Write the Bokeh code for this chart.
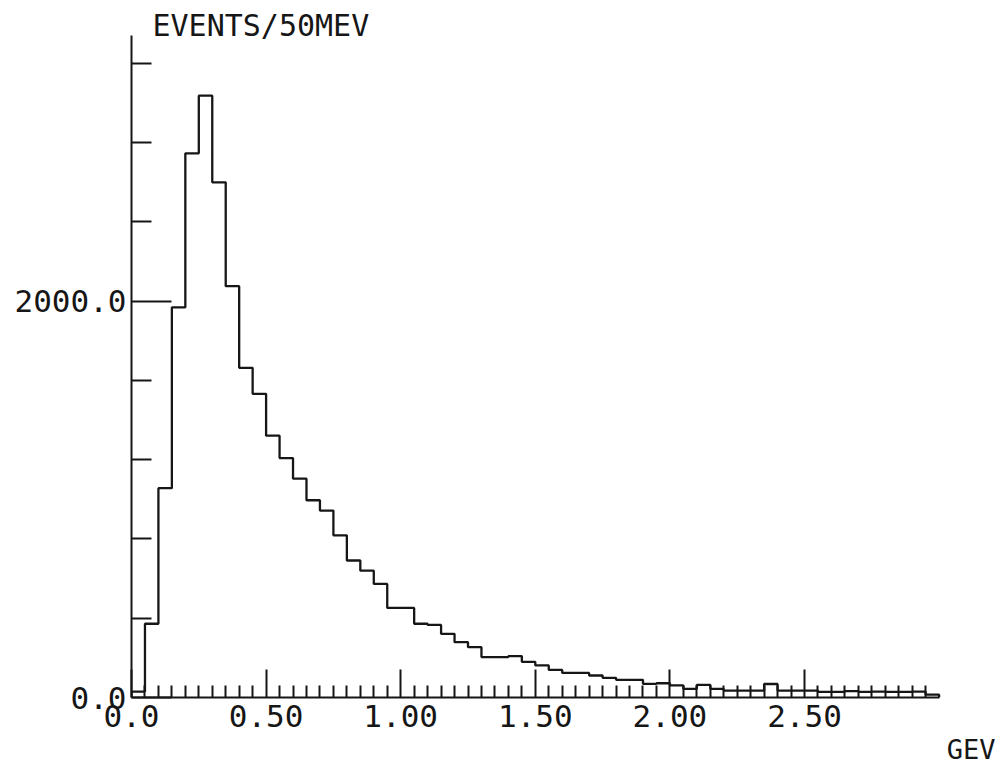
import numpy as np
from bokeh.plotting import figure
from bokeh.models import FixedTicker, Range1d, Label, Title
from bokeh.embed import file_html
from bokeh.resources import INLINE

# Histogram of events per 50 MeV bin, 0.00 - 3.00 GeV
bin_width_gev = 0.05
counts = [
    30, 372, 1056, 1968, 2745, 3036, 2599, 2075, 1663, 1532,
    1321, 1208, 1104, 995, 943, 818, 691, 640, 573, 452,
    452, 372, 366, 321, 279, 254, 204, 204, 209, 180,
    162, 139, 124, 124, 111, 99, 89, 89, 69, 72,
    61, 44, 64, 44, 35, 35, 35, 68, 35, 35,
    35, 28, 28, 32, 28, 30, 28, 28, 30, 14,
]

x_major_ticks = [0.0, 0.5, 1.0, 1.5, 2.0, 2.5]
x_tick_labels = ["0.0", "0.50", "1.00", "1.50", "2.00", "2.50"]
y_major_ticks = [0, 2000]
y_tick_labels = ["0.0", "2000.0"]
y_minor_ticks = [400, 800, 1200, 1600, 2400, 2800, 3200]

x_axis_end = 3.0
y_axis_end = 3340

INK = "#161616"
FONT = "DejaVu Sans Mono"

# step outline of the histogram
edges = np.arange(len(counts) + 1) * bin_width_gev
xs = np.repeat(edges, 2)
ys = np.concatenate([[0], np.repeat(counts, 2), [0]])

p = figure(
    width=1001, height=777,
    x_range=Range1d(0, 3.2095), y_range=Range1d(0, 3516),
    output_backend="svg", toolbar_location=None,
    min_border_left=131, min_border_right=6,
    min_border_top=0, min_border_bottom=80,
)
p.background_fill_color = "white"
p.border_fill_color = "white"
p.outline_line_color = None
p.grid.visible = False

p.line(xs, ys, line_color=INK, line_width=2.3)

# x axis: long ticks every 0.5 GeV, short ticks every bin
x_minor = [round(k * bin_width_gev, 2) for k in range(1, 60) if k % 10 != 0]
xa = p.xaxis[0]
xa.ticker = FixedTicker(ticks=x_major_ticks, minor_ticks=x_minor)
xa.major_label_overrides = {t: s for t, s in zip(x_major_ticks, x_tick_labels)}
xa.bounds = (0, x_axis_end)
xa.axis_line_color = INK
xa.axis_line_width = 2
xa.major_tick_line_color = INK
xa.major_tick_line_width = 2
xa.minor_tick_line_color = INK
xa.minor_tick_line_width = 2
xa.major_tick_in = 28
xa.major_tick_out = 0
xa.minor_tick_in = 12
xa.minor_tick_out = 0
xa.major_label_standoff = 7
xa.major_label_text_font = FONT
xa.major_label_text_font_size = "31px"
xa.major_label_text_color = INK

# y axis
ya = p.yaxis[0]
ya.ticker = FixedTicker(ticks=y_major_ticks, minor_ticks=y_minor_ticks)
ya.major_label_overrides = {t: s for t, s in zip(y_major_ticks, y_tick_labels)}
ya.bounds = (0, y_axis_end)
ya.axis_line_color = INK
ya.axis_line_width = 2
ya.major_tick_line_color = INK
ya.major_tick_line_width = 2
ya.minor_tick_line_color = INK
ya.minor_tick_line_width = 2
ya.major_tick_in = 40
ya.major_tick_out = 0
ya.minor_tick_in = 20
ya.minor_tick_out = 0
ya.major_label_standoff = 5
ya.major_label_text_font = FONT
ya.major_label_text_font_size = "31px"
ya.major_label_text_color = INK
ya.major_label_text_baseline = "middle"

p.add_layout(Label(
    x=0.078, y=3392, text="EVENTS/50MEV",
    text_font=FONT, text_font_size="30px", text_color=INK,
    text_baseline="alphabetic", text_align="left",
))

# unit label under the right end of the energy axis
p.add_layout(Title(
    text="GEV", align="right", standoff=5,
    text_font=FONT, text_font_size="27px", text_font_style="normal",
    text_color=INK,
), "below")

open("out.html", "w").write(file_html(p, INLINE))
